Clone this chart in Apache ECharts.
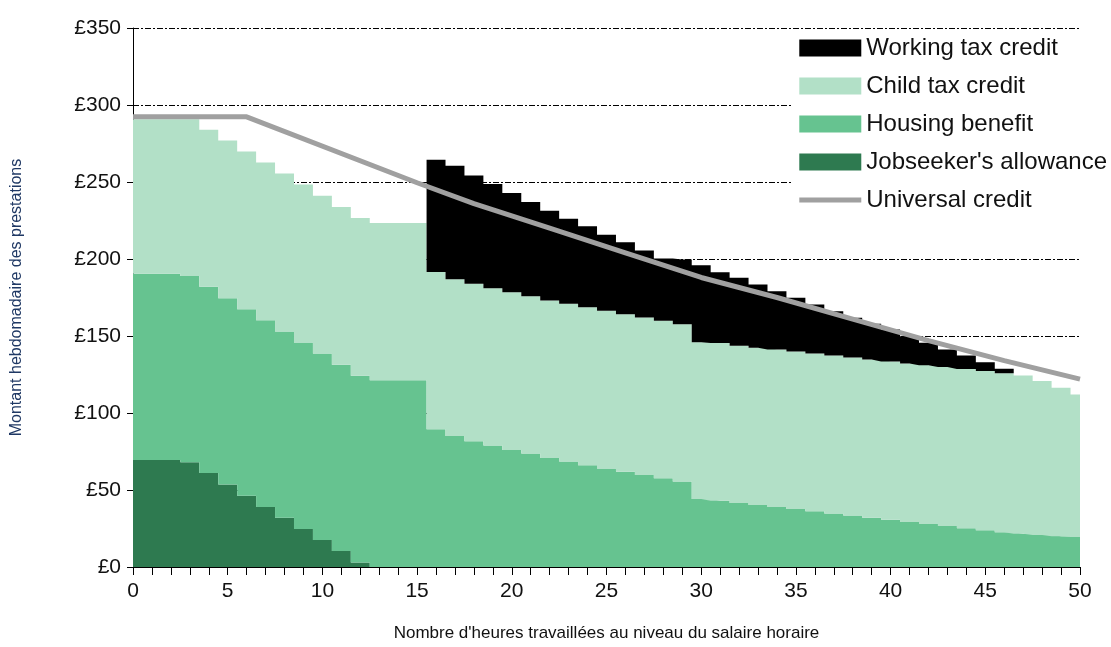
<!DOCTYPE html>
<html><head><meta charset="utf-8">
<script src="https://cdn.jsdelivr.net/npm/echarts@6/dist/echarts.min.js"></script>
<style>html,body{margin:0;padding:0;background:#fff}#c{width:1111px;height:647px}</style>
</head><body><div id="c"></div>
<script>
const hours = Array.from({length:51},(_,i)=>String(i));
// cumulative tops of each layer, £ per week
const jsaTop = [69.5,69.5,69.5,68,61,53.5,46.2,39,32,24.6,17.5,10.4,3,0,0,0,0,0,0,0,0,0,0,0,0,0,0,0,0,0,0,0,0,0,0,0,0,0,0,0,0,0,0,0,0,0,0,0,0,0,0];
const hbTop = [190.5,190.5,190.5,189,182,174.5,167.4,160.3,153,145.8,138.7,131.4,124.2,121.2,121.2,121.2,89.4,85,81.7,78.9,76,73.7,70.8,68.5,66.1,64,61.8,59.8,57.7,55.5,44.1,43,41.5,40.2,38.9,37.6,36.2,34.8,33.4,32,30.7,29.3,28,26.6,25.2,23.9,22.6,21.6,20.8,20,19.4];
const ctcTop = [290.8,290.8,290.8,290.8,283.9,277,269.8,262.7,255.5,248.4,241,233.8,226.6,223.4,223.4,223.4,191.6,186.9,183.9,181,178.4,175.8,173,170.9,168.7,166.4,164.2,162,159.9,157.7,146,145.4,143.7,142.4,141.2,139.9,138.6,137.3,136,134.7,133.5,132.2,131,129.8,128.6,127.2,125.8,124.4,120.8,116.4,112];
const wtcTop = [null,null,null,null,null,null,null,null,null,null,null,null,null,null,null,null,264.4,260.5,254.3,248.7,242.8,237,231.4,226.2,221.2,215.8,210.8,205.6,200.3,199.6,195.9,191.4,187.8,183.4,179,174.8,170.5,166.1,161.8,157.9,154.2,149.9,145.6,141.3,137.4,133,128.8,null,null,null,null];
const ucX = [0,6,15,18,22,26,30,34,38,42,46,50];
const ucY = [292.3,292.3,249.5,236,220,204,188,175,161,147,134,122];

const jsa = hours.map((h,i)=>jsaTop[i]);
const hb = hours.map((h,i)=>+(hbTop[i]-jsaTop[i]).toFixed(2));
const ctc = hours.map((h,i)=>+(ctcTop[i]-hbTop[i]).toFixed(2));
const wtc = hours.map((h,i)=>wtcTop[i]==null?0:+(wtcTop[i]-ctcTop[i]).toFixed(2));
const uc = ucX.map((x,i)=>[x,ucY[i]]);

const F = 'Liberation Sans';
function area(name,data,color){
  return {name,type:'line',stack:'t',step:'middle',data,symbol:'none',
    lineStyle:{width:0,color},areaStyle:{color,opacity:1},itemStyle:{color},z:2};
}
const chart = echarts.init(document.getElementById('c'));
chart.setOption({
  animation:false,
  grid:{left:133,right:31,top:28,bottom:79},
  legend:{orient:'vertical',right:0,top:32,backgroundColor:'#fff',padding:[4,4,4,4],
    itemWidth:62,itemHeight:17,itemGap:14,
    textStyle:{fontFamily:F,fontSize:24,color:'#111'},
    data:[{name:'Working tax credit',icon:'rect'},{name:'Child tax credit',icon:'rect'},
      {name:'Housing benefit',icon:'rect'},{name:"Jobseeker's allowance",icon:'rect'},
      {name:'Universal credit',itemStyle:{opacity:0},lineStyle:{width:5}}]},
  xAxis:[{type:'category',data:hours,boundaryGap:false,
    name:"Nombre d'heures travaillées au niveau du salaire horaire",nameLocation:'middle',nameGap:58,
    nameTextStyle:{fontFamily:F,fontSize:17,color:'#111'},
    axisLine:{lineStyle:{color:'#000',width:1}},
    axisTick:{show:true,interval:0,length:8,lineStyle:{color:'#000'}},
    axisLabel:{interval:4,fontFamily:F,fontSize:21,color:'#111',margin:14},
    splitLine:{show:false}},
    {type:'value',min:0,max:50,show:false}],
  yAxis:{type:'value',min:0,max:350,interval:50,
    name:'Montant hebdomadaire des prestations',nameLocation:'middle',nameGap:108,
    nameTextStyle:{fontFamily:F,fontSize:16,color:'#1f3864'},
    axisLine:{show:true,lineStyle:{color:'#000'}},
    axisTick:{show:true,length:6,lineStyle:{color:'#000'}},
    axisLabel:{fontFamily:F,fontSize:21,color:'#111',margin:12,formatter:v=>'£'+v},
    splitLine:{show:true,lineStyle:{color:'#000',width:1,type:[6,2,2,2]}}},
  series:[
    area("Jobseeker's allowance",jsa,'#2e7a50'),
    area('Housing benefit',hb,'#66c390'),
    area('Child tax credit',ctc,'#b2e0c7'),
    area('Working tax credit',wtc,'#000000'),
    {name:'Universal credit',type:'line',xAxisIndex:1,data:uc,smooth:false,symbol:'none',
      lineStyle:{color:'#a0a0a0',width:5},itemStyle:{color:'#a0a0a0'},z:5}
  ]
});
</script></body></html>
